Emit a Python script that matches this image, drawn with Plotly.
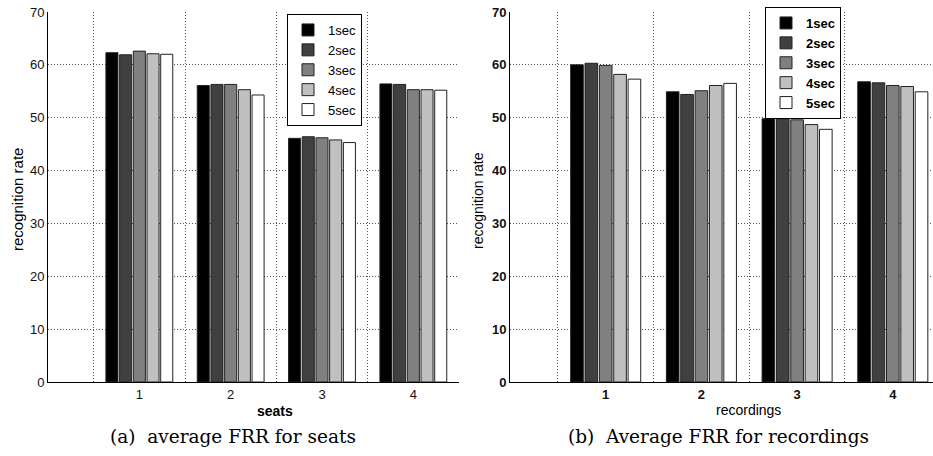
import plotly.graph_objects as go

groups = [1, 2, 3, 4]
series_names = ["1sec", "2sec", "3sec", "4sec", "5sec"]
colors = ["#000000", "#404040", "#808080", "#c0c0c0", "#ffffff"]

seats_1sec = [62.3, 56.1, 46.1, 56.4]
seats_2sec = [61.9, 56.3, 46.4, 56.3]
seats_3sec = [62.6, 56.3, 46.2, 55.3]
seats_4sec = [62.1, 55.3, 45.8, 55.3]
seats_5sec = [62.0, 54.3, 45.3, 55.2]

rec_1sec = [60.0, 54.9, 49.8, 56.8]
rec_2sec = [60.3, 54.4, 49.8, 56.6]
rec_3sec = [59.9, 55.1, 49.6, 56.1]
rec_4sec = [58.2, 56.1, 48.7, 55.9]
rec_5sec = [57.3, 56.5, 47.8, 54.9]

seats = [seats_1sec, seats_2sec, seats_3sec, seats_4sec, seats_5sec]
recs = [rec_1sec, rec_2sec, rec_3sec, rec_4sec, rec_5sec]

y_ticks = [0, 10, 20, 30, 40, 50, 60, 70]

W, H = 933, 456
fig = go.Figure()

for name, col, vals in zip(series_names, colors, seats):
    fig.add_trace(go.Bar(x=groups, y=vals, name=name, marker=dict(color=col, line=dict(color="#222", width=1)),
                         xaxis="x", yaxis="y", legend="legend"))
for name, col, vals in zip(series_names, colors, recs):
    fig.add_trace(go.Bar(x=groups, y=vals, name=name, marker=dict(color=col, line=dict(color="#222", width=1)),
                         xaxis="x2", yaxis="y2", legend="legend2"))

top, bottom = 12, 382
ph = bottom - top
GRID = "#555"
DASH = "1px,2px"

def xa(domain, rng, anchor):
    return dict(domain=domain, range=rng, anchor=anchor, tickvals=groups, ticktext=[str(g) for g in groups],
                showgrid=False, zeroline=False, showline=True, linecolor="black", linewidth=1,
                ticks="", tickfont=dict(family="Liberation Sans", size=13, color="#111"),
                minor=dict(tick0=0.5, dtick=1, showgrid=True, gridcolor=GRID, griddash=DASH, gridwidth=1),
                fixedrange=True)

def ya(anchor):
    return dict(anchor=anchor, domain=[0, 1], range=[0, 70], tickvals=y_ticks, showgrid=True, gridcolor=GRID,
                griddash=DASH, gridwidth=1, zeroline=False, showline=True, linecolor="black", linewidth=1,
                ticks="", tickfont=dict(family="Liberation Sans", size=13, color="#111"))

x1 = xa([48 / W, 459 / W], [0, 4.5], "y")
x2 = xa([510 / W, 1.0], [0, 4.42], "y2")
y1 = ya("x")
y2 = ya("x2")
x2["tickvals"] = groups
x2["ticktext"] = ["<b>%d</b>" % g for g in groups]
y2["tickvals"] = y_ticks
y2["ticktext"] = ["<b>%d</b>" % v for v in y_ticks]

fig.update_layout(
    width=W, height=H, margin=dict(l=0, r=0, t=top, b=H - bottom),
    paper_bgcolor="white", plot_bgcolor="white",
    barmode="group", bargap=0.25, bargroupgap=0.12,
    xaxis=x1, yaxis=y1, xaxis2=x2, yaxis2=y2,
    legend=dict(x=287 / W, y=(bottom - 14) / ph, xanchor="left", yanchor="top", bgcolor="white",
                bordercolor="black", borderwidth=1,
                font=dict(family="Liberation Sans", size=13, color="black")),
    legend2=dict(x=765 / W, y=(bottom - 7) / ph, xanchor="left", yanchor="top", bgcolor="white",
                 bordercolor="black", borderwidth=1,
                 font=dict(family="Liberation Sans", size=13, color="black", weight="bold")),
    showlegend=True,
)

annos = [
    dict(text="recognition rate", x=18 / W, y=(bottom - 200) / ph, textangle=-90,
         font=dict(family="Liberation Sans", size=15, color="black")),
    dict(text="recognition rate", x=478 / W, y=(bottom - 200) / ph, textangle=-90,
         font=dict(family="Liberation Sans", size=14, color="black")),
    dict(text="<b>seats</b>", x=275 / W, y=(bottom - 411) / ph,
         font=dict(family="Liberation Sans", size=14, color="black")),
    dict(text="recordings", x=748 / W, y=(bottom - 410) / ph,
         font=dict(family="Liberation Sans", size=14, color="black")),
    dict(text="(a)  average FRR for seats", x=233 / W, y=(bottom - 436) / ph,
         font=dict(family="DejaVu Serif", size=18.5, color="black")),
    dict(text="(b)  Average FRR for recordings", x=718 / W, y=(bottom - 436) / ph,
         font=dict(family="DejaVu Serif", size=18.5, color="black")),
]
for a in annos:
    a.update(xref="paper", yref="paper", showarrow=False, xanchor="center", yanchor="middle")
    fig.add_annotation(**a)

fig.write_html("out.html")
